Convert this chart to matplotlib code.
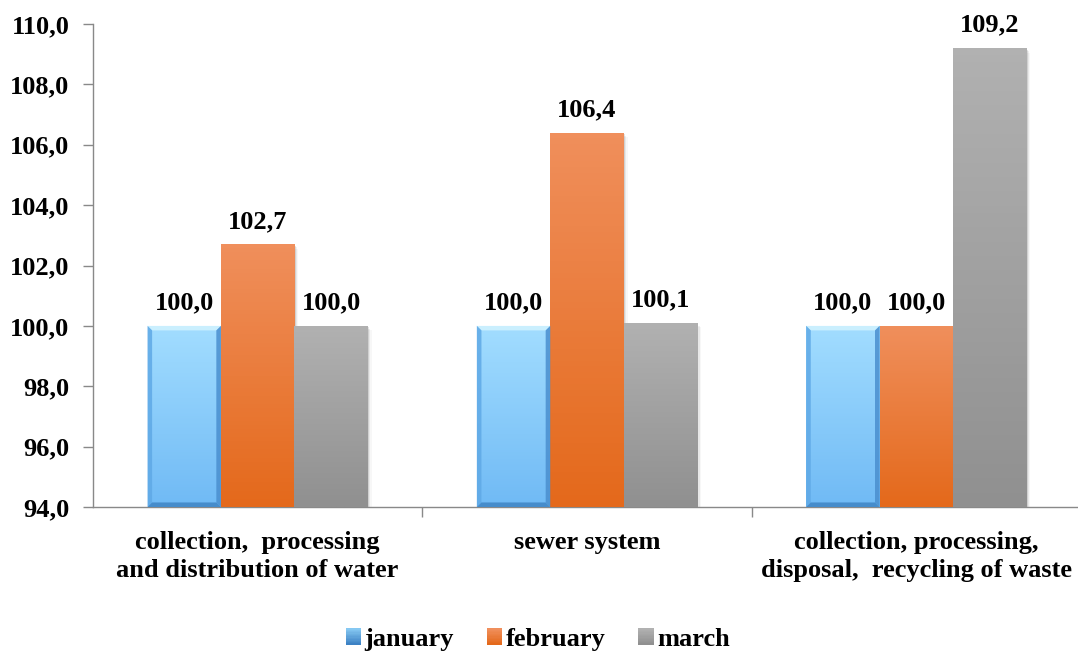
import numpy as np
import matplotlib
matplotlib.use('Agg')
import matplotlib.pyplot as plt
from matplotlib.patches import Polygon, Rectangle
from matplotlib.colors import LinearSegmentedColormap, to_rgb
from matplotlib.legend_handler import HandlerPatch

categories = ["collection,  processing\nand distribution of water",
              "sewer system",
              "collection, processing,\ndisposal,  recycling of waste"]
series = ["january", "february", "march"]
january = [100.0, 100.0, 100.0]
february = [102.7, 106.4, 100.0]
march = [100.0, 100.1, 109.2]
yticks = [94.0, 96.0, 98.0, 100.0, 102.0, 104.0, 106.0, 108.0, 110.0]

# top / bottom colours of each series gradient
grad = {
    "january": ("#a2ddff", "#70baf5"),
    "february": ("#f08f5c", "#e4691b"),
    "march": ("#b1b1b1", "#909090"),
}

plt.rcParams['font.family'] = ['Liberation Serif', 'DejaVu Serif']
plt.rcParams['font.weight'] = 'bold'

fig = plt.figure(figsize=(10.78, 6.57), dpi=100)
ax = fig.add_axes([93 / 1078, 1 - 507 / 657, 988 / 1078, 483 / 657])

ymin, ymax = 94.0, 110.0
x = np.arange(len(categories))
width = 0.223
values = [january, february, march]


def fill_gradient(ax, bar, top, bottom):
    x0, y0 = bar.get_x(), bar.get_y()
    w, h = bar.get_width(), bar.get_height()
    cmap = LinearSegmentedColormap.from_list("g", [bottom, top])
    img = ax.imshow(np.linspace(0, 1, 64).reshape(-1, 1), cmap=cmap,
                    extent=[x0, x0 + w, y0, y0 + h], origin='lower',
                    aspect='auto', zorder=3)
    img.set_clip_path(bar)


def bevel(ax, bar, dx, dy):
    # light top and darker side/bottom facets, like a raised button
    x0, y0 = bar.get_x(), bar.get_y()
    x1, y1 = x0 + bar.get_width(), y0 + bar.get_height()
    facets = [
        ([(x0, y1), (x1, y1), (x1 - dx, y1 - dy), (x0 + dx, y1 - dy)], "#d2f3ff", 0.85),
        ([(x0, y0), (x0, y1), (x0 + dx, y1 - dy), (x0 + dx, y0 + dy)], "#5fa9e6", 0.85),
        ([(x1, y0), (x1, y1), (x1 - dx, y1 - dy), (x1 - dx, y0 + dy)], "#4a8fcf", 0.85),
        ([(x0, y0), (x1, y0), (x1 - dx, y0 + dy), (x0 + dx, y0 + dy)], "#3f84c4", 0.85),
    ]
    for pts, col, a in facets:
        ax.add_patch(Polygon(pts, closed=True, facecolor=col, edgecolor='none',
                             alpha=a, zorder=4))


for i, (name, vals) in enumerate(zip(series, values)):
    pos = x + (i - 1) * width
    bars = ax.bar(pos, np.array(vals) - ymin, width, bottom=ymin,
                  color='none', edgecolor='none', zorder=3)
    top, bottom = grad[name]
    for b, v in zip(bars, vals):
        # soft shadow behind the bar
        for k, a in enumerate([0.10, 0.06, 0.03]):
            off = 0.004 * (k + 1)
            ax.add_patch(Rectangle((b.get_x() + off, b.get_y()), b.get_width(),
                                   b.get_height() - 0.05 * (k + 1), facecolor='#000000',
                                   alpha=a, edgecolor='none', zorder=2))
        fill_gradient(ax, b, top, bottom)
        if name == "january":
            bevel(ax, b, 0.014, 0.15)
        ax.text(b.get_x() + b.get_width() / 2, v + 0.38, f"{v:.1f}".replace('.', ','),
                ha='center', va='bottom', fontsize=19, fontweight='bold', zorder=5)

ax.set_xlim(-0.5, len(categories) - 0.5)
ax.set_ylim(ymin, ymax)
ax.set_yticks(yticks)
ax.set_yticklabels([f"{t:.1f}".replace('.', ',') for t in yticks])
ax.tick_params(axis='y', labelsize=19, length=7, color='#898989', width=1, pad=10)

ax.set_xticks(x)
ax.set_xticklabels(categories, fontsize=19, fontweight='bold', linespacing=1.3)
ax.tick_params(axis='x', length=0, pad=17)
ax.set_xticks(np.arange(0.5, len(categories) - 0.5 + 1), minor=True)
ax.tick_params(axis='x', which='minor', length=7, color='#898989', width=1)

for side in ['top', 'right']:
    ax.spines[side].set_visible(False)
for side in ['left', 'bottom']:
    ax.spines[side].set_color('#898989')
    ax.spines[side].set_linewidth(1)


class GradHandler(HandlerPatch):
    def __init__(self, top, bottom, **kw):
        super().__init__(**kw)
        self.top, self.bottom = top, bottom

    def create_artists(self, legend, orig_handle, xdescent, ydescent, width, height,
                       fontsize, trans):
        arts = []
        n = 12
        for k in range(n):
            c = np.array(to_rgb(self.bottom)) * (1 - k / (n - 1)) + \
                np.array(to_rgb(self.top)) * (k / (n - 1))
            arts.append(Rectangle((-xdescent, -ydescent + height * k / n), width,
                                  height / n + 0.3, facecolor=c, edgecolor='none',
                                  transform=trans))
        return arts


# legend swatches carry the same gradients
handles = [Rectangle((0, 0), 1, 1) for _ in series]
handler_map = {}
for h, name in zip(handles, series):
    top, bottom = grad[name]
    if name == "january":
        top, bottom = "#86c8f2", "#3d82c4"
    handler_map[h] = GradHandler(top, bottom)

fig.legend(handles, series, loc='center', bbox_to_anchor=(0.499, 0.027), ncol=3,
           frameon=False, prop={'size': 19, 'weight': 'bold'},
           handlelength=0.58, handleheight=0.58, handletextpad=0.12, columnspacing=1.25,
           handler_map=handler_map)

fig.savefig('out.png', dpi=100)
